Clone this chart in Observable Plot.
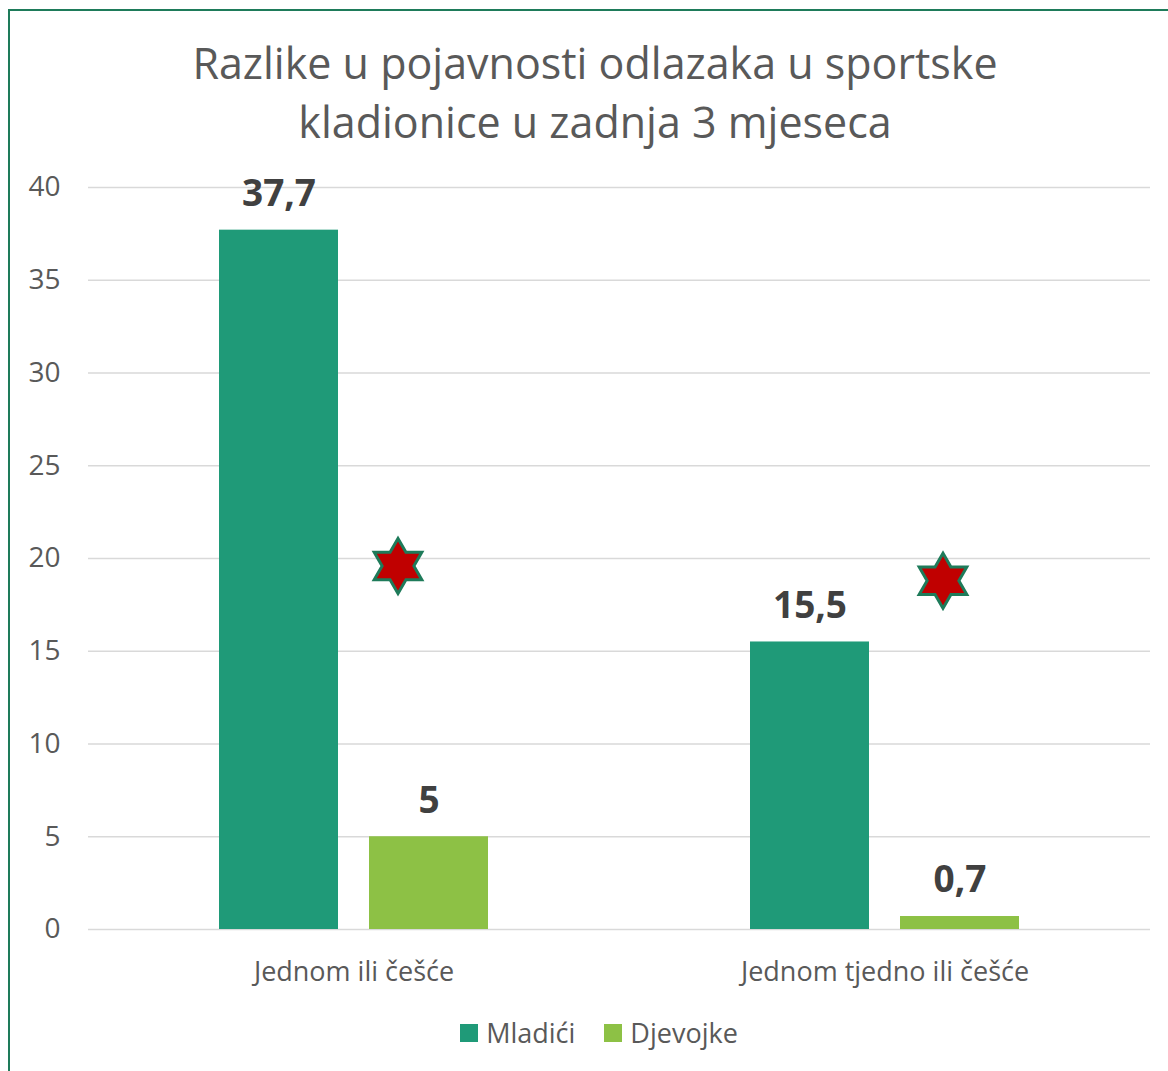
<!DOCTYPE html>
<html><head><meta charset="utf-8">
<script src="https://cdn.jsdelivr.net/npm/d3@7"></script>
<script src="https://cdn.jsdelivr.net/npm/@observablehq/plot@0.6"></script>
<style>
body{margin:0;background:#fff;font-family:"Open Sans",sans-serif}
#wrap{position:relative;width:1168px;height:1071px;overflow:hidden;background:#fff}
#frame{position:absolute;left:8px;top:9px;width:1300px;height:1200px;border-left:2px solid #1E7B5A;border-top:2px solid #1E7B5A;box-sizing:border-box}
#title{position:absolute;left:0;width:1190px;top:33px;text-align:center;font-size:43px;line-height:59px;color:#595959}
#chart{position:absolute;left:0;top:150px}
#legend{position:absolute;top:1015px;left:0;width:1198px;display:flex;justify-content:center;gap:29px;font-size:27px;color:#595959;line-height:36px}
#legend .item{display:flex;align-items:center;gap:8px}
#legend .sw{width:18px;height:18px;display:inline-block}
</style>
</head><body>
<div id="wrap">
  <div id="frame"></div>
  <div id="title">Razlike u pojavnosti odlazaka u sportske<br>kladionice u zadnja 3 mjeseca</div>
  <div id="chart"></div>
  <div id="legend"></div>
</div>
<script>
const categories = ["Jednom ili češće", "Jednom tjedno ili češće"];
const series = ["Mladići", "Djevojke"];
const mladici = [37.7, 15.5];
const djevojke = [5, 0.7];
const starValues = [19.6, 18.8];
const yTicks = [0, 5, 10, 15, 20, 25, 30, 35, 40];
const colors = ["#1F9A78", "#8DC145"];

const data = [];
categories.forEach((c, i) => {
  data.push({category: c, series: series[0], value: mladici[i]});
  data.push({category: c, series: series[1], value: djevojke[i]});
});
const stars = categories.map((c, i) => ({category: c, value: starValues[i]}));

const hexagram = {
  draw(context, size) {
    const R = Math.sqrt(size / Math.PI);
    const r = R / Math.sqrt(3);
    for (let k = 0; k < 12; k++) {
      const a = -Math.PI / 2 + k * Math.PI / 6;
      const rad = k % 2 === 0 ? R : r;
      const x = rad * Math.cos(a), y = rad * Math.sin(a);
      if (k === 0) context.moveTo(x, y); else context.lineTo(x, y);
    }
    context.closePath();
  }
};

const fmt = v => String(v).replace(".", ",");

const chart = Plot.plot({
  width: 1168,
  height: 850,
  marginTop: 37,
  marginBottom: 71,
  marginLeft: 88,
  marginRight: 18,
  style: {fontFamily: "'Open Sans', sans-serif", color: "#595959", background: "transparent"},
  fx: {domain: categories, padding: 0, label: null},
  x: {domain: series, paddingInner: 0.21, paddingOuter: 0.87, axis: null},
  y: {domain: [0, 40], label: null},
  color: {domain: series, range: colors},
  marks: [
    Plot.gridY(yTicks, {stroke: "#d9d9d9", strokeOpacity: 1, strokeWidth: 1.5}),
    Plot.axisY(yTicks, {tickSize: 0, tickPadding: 28, fontSize: 28, fill: "#595959", label: null}),
    Plot.axisFx({anchor: "bottom", tickSize: 0, tickPadding: 32, fontSize: 27, fill: "#595959", label: null}),
    Plot.barY(data, {fx: "category", x: "series", y: "value", fill: "series"}),
    Plot.text(data, {fx: "category", x: "series", y: "value", text: d => fmt(d.value),
      dy: -36, lineAnchor: "middle", fontWeight: "bold", fontSize: 37, fill: "#404040"}),
    Plot.dot(stars.filter((d, i) => i === 0), {fx: "category", x: () => series[1], y: "value",
      symbol: hexagram, r: 27.5, fill: "#C00000", stroke: "#1E7B5A", strokeWidth: 3, dx: -31}),
    Plot.dot(stars.filter((d, i) => i === 1), {fx: "category", x: () => series[1], y: "value",
      symbol: hexagram, r: 27.5, fill: "#C00000", stroke: "#1E7B5A", strokeWidth: 3, dx: -17})
  ]
});
document.getElementById("chart").appendChild(chart);

const legend = document.getElementById("legend");
series.forEach((s, i) => {
  const it = document.createElement("div");
  it.className = "item";
  it.innerHTML = `<span class="sw" style="background:${colors[i]}"></span><span>${s}</span>`;
  legend.appendChild(it);
});
</script>
</body></html>
